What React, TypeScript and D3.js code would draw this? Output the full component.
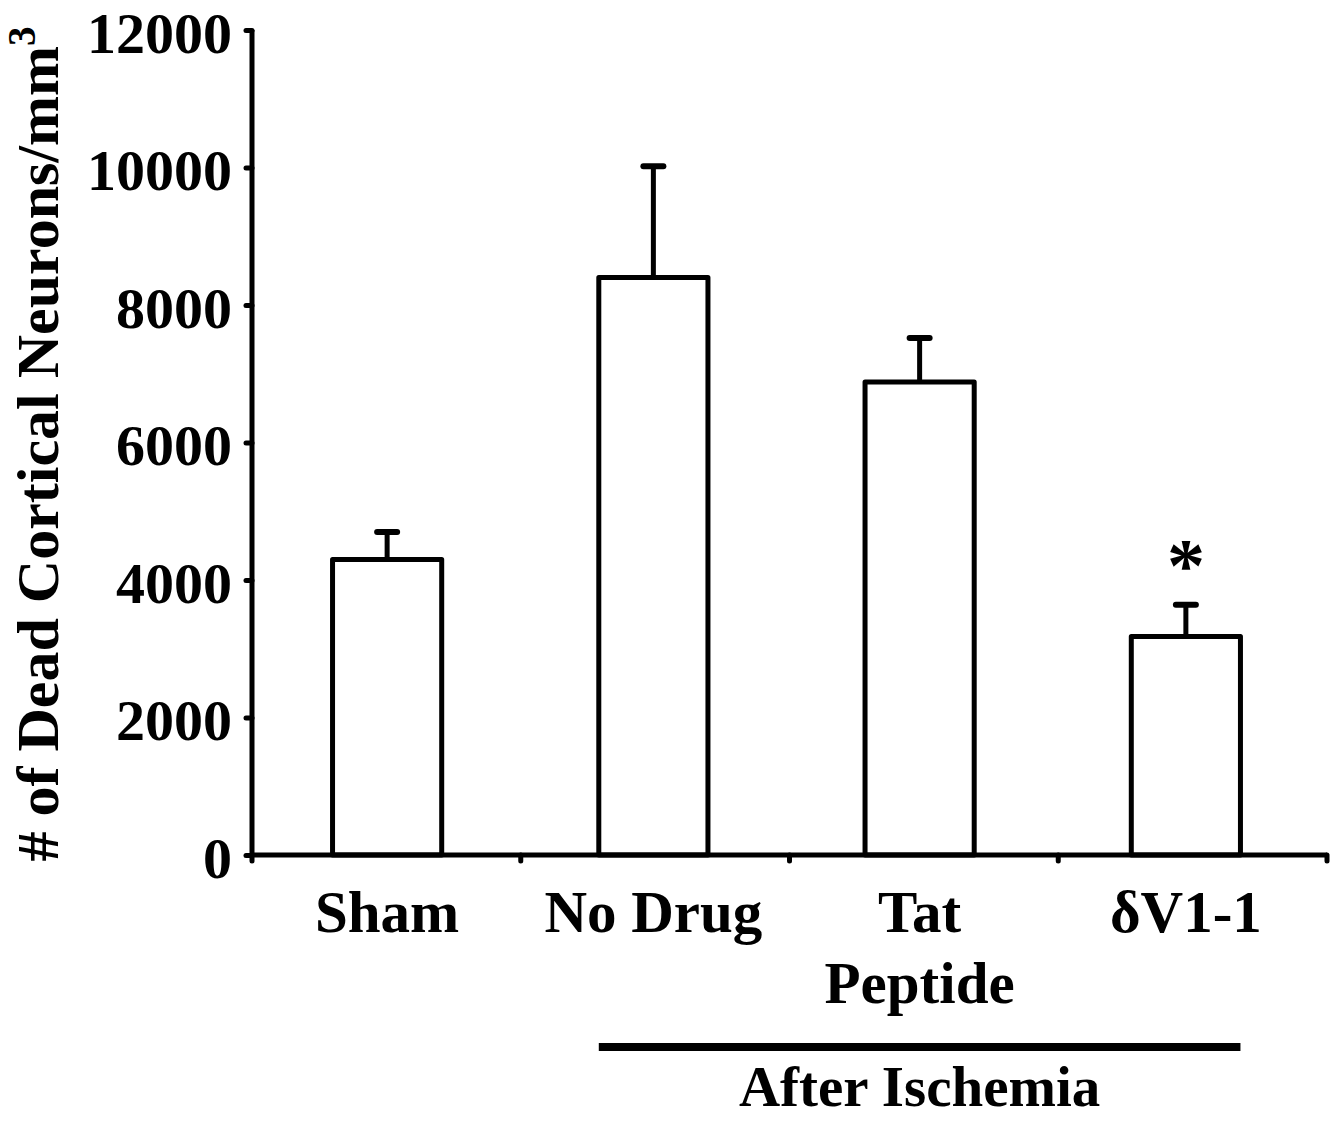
import { useEffect, useRef } from "react";
import * as d3 from "d3";

const groups = ["Sham", "No Drug", "Tat Peptide", "δV1-1"];
const labelLines = [["Sham"], ["No Drug"], ["Tat", "Peptide"], ["δV1-1"]];
const means = [4300, 8400, 6880, 3180];
const errors = [400, 1620, 640, 460];
const yTicks = [0, 2000, 4000, 6000, 8000, 10000, 12000];
const significant = [false, false, false, true];

const W = 1337;
const H = 1122;
const FONT = "'Liberation Serif', 'Times New Roman', serif";

export default function App() {
  const ref = useRef<SVGSVGElement | null>(null);

  useEffect(() => {
    const svg = d3.select(ref.current);
    svg.selectAll("*").remove();

    const x0 = 252, x1 = 1327, yBase = 855, yTop = 30;

    const x = d3.scaleBand<string>()
      .domain(groups)
      .range([x0 + 2, x1 - 8])
      .paddingInner(0.59)
      .paddingOuter(0.295);

    const y = d3.scaleLinear().domain([0, 12000]).range([yBase, yTop]);

    const g = svg.append("g");

    // bars
    g.selectAll("rect.bar")
      .data(groups)
      .join("rect")
      .attr("class", "bar")
      .attr("x", d => x(d)!)
      .attr("y", (d, i) => y(means[i]))
      .attr("width", x.bandwidth())
      .attr("height", (d, i) => yBase - y(means[i]))
      .attr("fill", "#fff")
      .attr("stroke", "#000")
      .attr("stroke-width", 5)
      .attr("stroke-linejoin", "round");

    // error bars
    const cx = (d: string) => x(d)! + x.bandwidth() / 2;
    g.selectAll("line.err")
      .data(groups)
      .join("line")
      .attr("x1", cx)
      .attr("x2", cx)
      .attr("y1", (d, i) => y(means[i]))
      .attr("y2", (d, i) => y(means[i] + errors[i]))
      .attr("stroke", "#000")
      .attr("stroke-width", 5);
    g.selectAll("line.cap")
      .data(groups)
      .join("line")
      .attr("x1", d => cx(d) - 10)
      .attr("x2", d => cx(d) + 10)
      .attr("y1", (d, i) => y(means[i] + errors[i]))
      .attr("y2", (d, i) => y(means[i] + errors[i]))
      .attr("stroke", "#000")
      .attr("stroke-width", 6)
      .attr("stroke-linecap", "round");

    // significance
    g.selectAll("text.sig")
      .data(groups.filter((d, i) => significant[i]))
      .join("text")
      .attr("x", d => cx(d))
      .attr("y", d => y(means[groups.indexOf(d)] + errors[groups.indexOf(d)]) - 14)
      .attr("text-anchor", "middle")
      .attr("font-family", FONT)
      .attr("font-weight", "bold")
      .attr("font-size", 76)
      .text("*");

    // y axis
    const yAxis = g.append("g")
      .attr("transform", `translate(${x0},0)`)
      .call(d3.axisLeft(y).tickValues(yTicks).tickSize(6).tickPadding(14).tickFormat(d3.format("d")));
    yAxis.select(".domain").remove();
    yAxis.selectAll(".tick line").attr("stroke", "#000").attr("stroke-width", 5).attr("stroke-linecap", "round");
    yAxis.selectAll(".tick text")
      .attr("font-family", FONT)
      .attr("font-weight", "bold")
      .attr("font-size", 58)
      .attr("fill", "#000")
      .attr("dy", "0.38em");

    g.append("line")
      .attr("x1", x0).attr("x2", x0)
      .attr("y1", yTop).attr("y2", yBase)
      .attr("stroke", "#000").attr("stroke-width", 5);

    // x axis
    g.append("line")
      .attr("x1", x0).attr("x2", x1)
      .attr("y1", yBase).attr("y2", yBase)
      .attr("stroke", "#000").attr("stroke-width", 5);
    const bounds = d3.range(groups.length + 1).map(i => x0 + i * (x1 - x0) / groups.length);
    g.selectAll("line.xt")
      .data(bounds)
      .join("line")
      .attr("x1", d => d)
      .attr("x2", d => d)
      .attr("y1", yBase)
      .attr("y2", yBase + 6)
      .attr("stroke", "#000")
      .attr("stroke-width", 5)
      .attr("stroke-linecap", "round");

    // category labels
    const lab = g.selectAll("text.cat")
      .data(groups)
      .join("text")
      .attr("text-anchor", "middle")
      .attr("font-family", FONT)
      .attr("font-weight", "bold")
      .attr("font-size", 59)
      .attr("fill", "#000");
    lab.each(function (d, i) {
      const t = d3.select(this);
      labelLines[i].forEach((line, k) => {
        t.append("tspan")
          .attr("x", cx(d))
          .attr("y", 932 + k * 71)
          .text(line);
      });
    });

    // after ischemia bracket
    const bx1 = x(groups[1])!;
    const bx2 = x(groups[3])! + x.bandwidth();
    g.append("line")
      .attr("x1", bx1).attr("x2", bx2)
      .attr("y1", 1047).attr("y2", 1047)
      .attr("stroke", "#000").attr("stroke-width", 8);
    g.append("text")
      .attr("x", (bx1 + bx2) / 2)
      .attr("y", 1106)
      .attr("text-anchor", "middle")
      .attr("font-family", FONT)
      .attr("font-weight", "bold")
      .attr("font-size", 57)
      .text("After Ischemia");

    // y label
    const yl = g.append("text")
      .attr("transform", `translate(58,${(20 + 868) / 2}) rotate(-90)`)
      .attr("text-anchor", "middle")
      .attr("font-family", FONT)
      .attr("font-weight", "bold")
      .attr("font-size", 60);
    yl.append("tspan").text("# of Dead Cortical Neurons/mm");
    yl.append("tspan").attr("dy", -23).attr("font-size", 39).text("3");
  }, []);

  return (
    <svg
      ref={ref}
      width={W}
      height={H}
      style={{ position: "absolute", left: 0, top: 0, background: "#fff" }}
    />
  );
}
